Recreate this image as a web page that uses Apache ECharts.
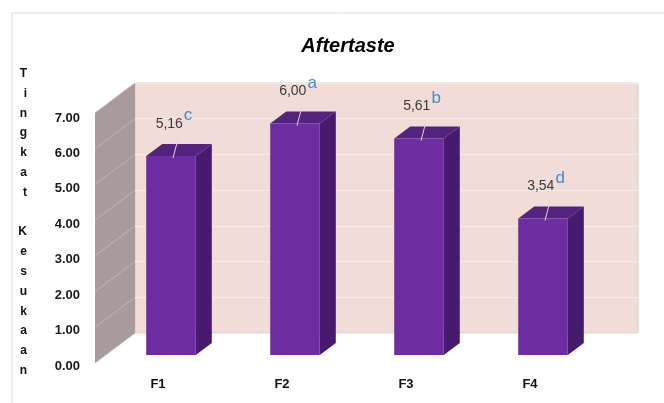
<!DOCTYPE html>
<html>
<head>
<meta charset="utf-8">
<script src="https://cdn.jsdelivr.net/npm/echarts@6/dist/echarts.min.js"></script>
<style>
html, body { margin: 0; padding: 0; background: #fff; }
#chart { width: 664px; height: 403px; }
</style>
</head>
<body>
<div id="chart"></div>
<script>
// data
const categories = ['F1', 'F2', 'F3', 'F4'];
const values = [5.16, 6.00, 5.61, 3.54];
const valueLabels = ['5,16', '6,00', '5,61', '3,54'];
const letters = ['c', 'a', 'b', 'd'];
const yTicks = [0, 1, 2, 3, 4, 5, 6, 7];
const yTitle = 'Tingkat Kesukaan';

const chart = echarts.init(document.getElementById('chart'));

const DX = 16, DY = -12;   // bar depth
const WX = -40, WY = 30;   // side wall: back edge -> front edge
const FONT = '"Liberation Sans", Arial, sans-serif';

// 3D looking bar
function renderBar(params, api) {
    const i = params.dataIndex;
    const base = api.coord([api.value(0), 0]);
    const top = api.coord([api.value(0), api.value(1)]);
    const w = api.size([1, 0])[0] * 0.4;
    const x0 = top[0] - w / 2, x1 = top[0] + w / 2;
    const yT = top[1], yB = base[1];
    return {
        type: 'group',
        children: [
            { type: 'polygon', shape: { points: [[x1, yT], [x1 + DX, yT + DY], [x1 + DX, yB + DY], [x1, yB]] }, style: { fill: '#461a6d' } },
            { type: 'polygon', shape: { points: [[x0, yT], [x0 + DX, yT + DY], [x1 + DX, yT + DY], [x1, yT]] }, style: { fill: '#53247f' } },
            { type: 'rect', shape: { x: x0, y: yT, width: w, height: yB - yT }, style: { fill: '#6e2ca2' } },
            { type: 'line', shape: { x1: top[0] + 2, y1: yT + 2, x2: top[0] + 7, y2: yT - 17 }, style: { stroke: '#e3d3e6', lineWidth: 1 } },
            {
                type: 'text', x: top[0] + 3, y: yT - 32,
                style: {
                    text: '{v|' + valueLabels[i] + '}{s|' + letters[i] + '}',
                    align: 'center', verticalAlign: 'middle',
                    rich: {
                        v: { fontSize: 14, fontFamily: FONT, fill: '#3a3a3a', color: '#3a3a3a' },
                        s: { fontSize: 17, fontFamily: FONT, fill: '#3b8ed0', color: '#3b8ed0', padding: [0, 0, 17, 1] }
                    }
                }
            }
        ]
    };
}

// grey side wall
function renderWall(params, api) {
    const p0 = api.coord([0, api.value(1)]);
    const p7 = api.coord([0, api.value(2)]);
    return {
        type: 'polygon',
        shape: { points: [p7, p0, [p0[0] + WX, p0[1] + WY], [p7[0] + WX, p7[1] + WY]] },
        style: { fill: '#a99b9c' }
    };
}

function renderWallLine(params, api) {
    const p = api.coord([0, api.value(1)]);
    return {
        type: 'line',
        shape: { x1: p[0], y1: p[1], x2: p[0] + WX, y2: p[1] + WY },
        style: { stroke: '#c3b5b5', lineWidth: 1 }
    };
}

const option = {
    backgroundColor: '#fff',
    animation: false,
    title: {
        text: 'Aftertaste',
        left: 343, top: 31, textAlign: 'center',
        textStyle: { fontSize: 20, fontWeight: 'bold', fontStyle: 'italic', fontFamily: FONT, color: '#000' }
    },
    grid: [
        // back wall
        { left: 135, right: 26, top: 83, bottom: 70, show: true, backgroundColor: '#f1dcd8', borderColor: '#dccaca', borderWidth: 1, outerBoundsMode: 'none' },
        // tick labels on the front edge of the side wall
        { left: 88, right: 500, top: 118, bottom: 37, outerBoundsMode: 'none' },
        // bars (front plane)
        { left: 109, right: 59, top: 85, bottom: 48, outerBoundsMode: 'none' }
    ],
    xAxis: [
        { gridIndex: 0, type: 'value', min: 0, max: 1, show: false },
        { gridIndex: 1, type: 'value', min: 0, max: 1, show: false },
        {
            gridIndex: 2, type: 'category', data: categories,
            axisLine: { show: false }, axisTick: { show: false },
            axisLabel: { margin: 23, fontSize: 13, fontWeight: 'bold', fontFamily: FONT, color: '#111', padding: [0, 26, 0, 0] }
        }
    ],
    yAxis: [
        {
            gridIndex: 0, type: 'value', min: 0, max: 7, interval: 1,
            axisLine: { show: false }, axisTick: { show: false }, axisLabel: { show: false },
            splitLine: { lineStyle: { color: '#f8ecea', width: 1 } }
        },
        {
            gridIndex: 1, type: 'value', min: 0, max: 7, interval: 1,
            axisLine: { show: false }, axisTick: { show: false }, splitLine: { show: false },
            axisLabel: { margin: 8, fontSize: 13, fontWeight: 'bold', fontFamily: FONT, color: '#1a1a1a', formatter: v => v.toFixed(2) },
            // letters stacked vertically, two empty lines at the end lift the column
            name: yTitle.split('').join('\n') + '\n\u00a0\n\u00a0',
            nameLocation: 'middle', nameRotate: 0, nameGap: 61,
            nameTextStyle: { fontSize: 12, fontWeight: 'bold', fontFamily: FONT, color: '#111', lineHeight: 19.8 }
        },
        { gridIndex: 2, type: 'value', min: 0, max: 7, show: false }
    ],
    series: [
        {
            type: 'custom', xAxisIndex: 0, yAxisIndex: 0,
            renderItem: renderWall,
            data: [[0, yTicks[0], yTicks[yTicks.length - 1]]]
        },
        {
            type: 'custom', xAxisIndex: 0, yAxisIndex: 0,
            renderItem: renderWallLine,
            data: yTicks.map(v => [0, v])
        },
        {
            type: 'custom', xAxisIndex: 2, yAxisIndex: 2,
            renderItem: renderBar,
            data: categories.map((c, i) => [i, values[i]])
        }
    ],
    graphic: [
        { type: 'rect', shape: { x: 12, y: 13, width: 700, height: 450 }, style: { fill: 'none', stroke: '#dcdcdc', lineWidth: 1 }, z: -1 }
    ]
};

chart.setOption(option);
</script>
</body>
</html>
